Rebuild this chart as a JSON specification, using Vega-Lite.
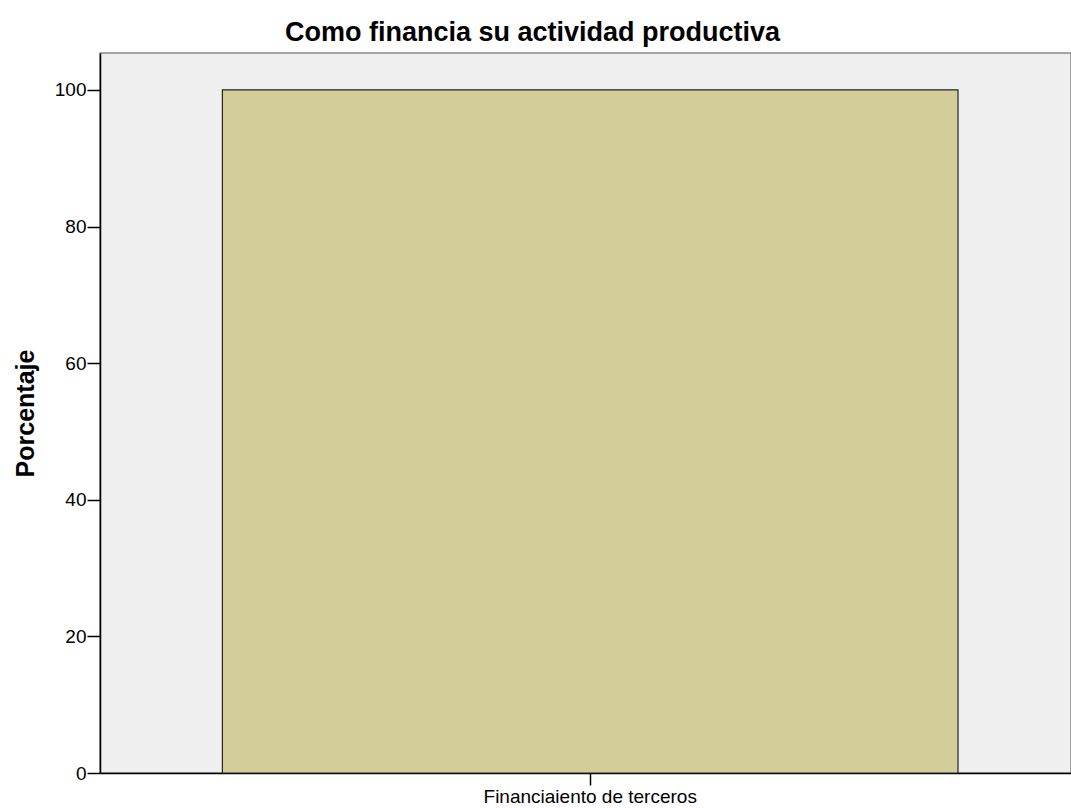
{
  "$schema": "https://vega.github.io/schema/vega-lite/v6.json",
  "width": 971,
  "height": 720,
  "autosize": "none",
  "padding": {"left": 100, "top": 53, "right": 0, "bottom": 35},
  "background": "white",
  "config": {
    "font": "Liberation Sans",
    "view": {"fill": "#EFEFEF", "stroke": "#8a8a8a", "strokeWidth": 1.5}
  },
  "title": {
    "text": "Como financia su actividad productiva",
    "fontSize": 27,
    "fontWeight": "bold",
    "color": "#000000",
    "anchor": "middle",
    "dx": -53,
    "offset": 6
  },
  "data": {"values": [{"categoria": "Financiaiento de terceros", "porcentaje": 100}]},
  "mark": {"type": "bar", "color": "#D3CE99", "stroke": "#222222", "strokeWidth": 1.2},
  "encoding": {
    "x": {
      "field": "categoria",
      "type": "nominal",
      "scale": {"paddingInner": 0, "paddingOuter": 0.16, "align": 0.52},
      "axis": {
        "title": null,
        "labelAngle": 0,
        "labelFontSize": 19,
        "labelLimit": 0,
        "labelColor": "#000000",
        "domainColor": "#000000",
        "domainWidth": 1.5,
        "tickColor": "#000000",
        "tickSize": 12,
        "tickWidth": 1.5,
        "labelPadding": 2
      }
    },
    "y": {
      "field": "porcentaje",
      "type": "quantitative",
      "scale": {"domain": [0, 105.4], "nice": false},
      "axis": {
        "title": "Porcentaje",
        "titleFontSize": 25,
        "titleFontWeight": "bold",
        "titleColor": "#000000",
        "titlePadding": 16,
        "values": [0, 20, 40, 60, 80, 100],
        "grid": false,
        "labelFontSize": 19,
        "labelColor": "#000000",
        "domainColor": "#000000",
        "domainWidth": 1.5,
        "tickColor": "#000000",
        "tickSize": 13,
        "tickWidth": 1.5,
        "labelPadding": 1
      }
    }
  }
}
